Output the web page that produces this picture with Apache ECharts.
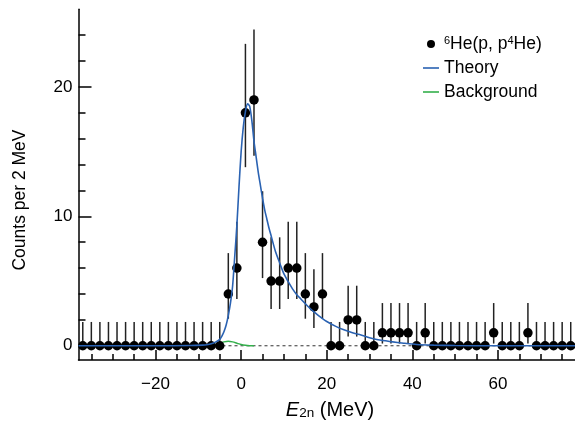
<!DOCTYPE html>
<html>
<head>
<meta charset="utf-8">
<script src="https://cdn.jsdelivr.net/npm/echarts@6/dist/echarts.min.js"></script>
<style>
html,body{margin:0;padding:0;background:#fff;}
#c{width:575px;height:423px;}
</style>
</head>
<body>
<div id="c"></div>
<script>
// Measured data: bin centres (MeV), counts per 2 MeV, and the error-bar limits
const energy = [-37,-35,-33,-31,-29,-27,-25,-23,-21,-19,-17,-15,-13,-11,-9,-7,-5,-3,-1,1,3,5,7,9,11,13,15,17,19,21,23,25,27,29,31,33,35,37,39,41,43,45,47,49,51,53,55,57,59,61,63,65,67,69,71,73,75,77];
const counts = [0,0,0,0,0,0,0,0,0,0,0,0,0,0,0,0,0, 4,6,18,19,8,5,5,6,6,4,3,4, 0,0,2,2,0,0, 1,1,1,1,0,1, 0,0,0,0,0,0,0, 1, 0,0,0, 1, 0,0,0,0,0];
const errLow = [0,0,0,0,0,0,0,0,0,0,0,0,0,0,0,0,0, 2.09,3.62,13.80,14.68,5.23,2.84,2.84,3.62,3.62,2.09,1.37,2.09, 0,0,0.71,0.71,0,0, 0.17,0.17,0.17,0.17,0,0.17, 0,0,0,0,0,0,0, 0.17, 0,0,0, 0.17, 0,0,0,0,0];
const errHigh = [1.84,1.84,1.84,1.84,1.84,1.84,1.84,1.84,1.84,1.84,1.84,1.84,1.84,1.84,1.84,1.84,1.84, 7.16,9.58,23.33,24.44,11.94,8.38,8.38,9.58,9.58,7.16,5.92,7.16, 1.84,1.84,4.64,4.64,1.84,1.84, 3.30,3.30,3.30,3.30,1.84,3.30, 1.84,1.84,1.84,1.84,1.84,1.84,1.84, 3.30, 1.84,1.84,1.84, 3.30, 1.84,1.84,1.84,1.84,1.84];

// Theory curve
const theoryE = [-38,-20,-12,-9,-8,-7,-6,-5,-4.5,-4,-3.5,-3,-2.5,-2,-1.5,-1,-0.5,0,0.5,1,1.5,2,2.5,3,3.5,4,4.5,5,5.5,6,6.5,7,8,9,10,11,12,13,14,15,16,17,18,19,20,22,24,26,28,30,32,35,38,41,45,50,60,78];
const theoryY = [0,0,0.02,0.05,0.08,0.15,0.28,0.5,0.75,1.1,1.6,2.35,3.3,4.6,6.9,9.3,12.3,15.0,16.9,18.1,18.7,18.5,17.4,15.8,14.6,13.4,12.4,11.4,10.5,9.8,9.1,8.5,7.3,6.4,5.55,4.95,4.4,3.95,3.6,3.25,2.92,2.62,2.35,2.1,1.88,1.52,1.23,1.0,0.83,0.62,0.46,0.32,0.2,0.1,0.05,0.02,0,0];

// Background curve
const bgE = [-38,-8,-7,-6,-5,-4,-3,-2,-1,0,1,2,3];
const bgY = [0,0,0.03,0.1,0.2,0.3,0.35,0.3,0.2,0.1,0.04,0.01,0];

// Axis ticks
const xMajor = [-20,0,20,40,60];
const xMinor = [-35,-30,-25,-15,-10,-5,5,10,15,25,30,35,45,50,55,65,70,75];
const yMajor = [0,10,20];
const yMinor = [2,4,6,8,12,14,16,18,22,24];

const dataName = '⁶He(p, p⁴He)';
const FONT = '"Liberation Sans", Arial, Helvetica, sans-serif';
const X_MIN = -38, X_MAX = 78, Y_MIN = -1.1, Y_MAX = 26;
const BLUE = '#2a62b2', GREEN = '#34b04c';
const LINE_ICON = 'path://M0,0 L20,0 L20,2 L0,2 Z';

const chart = echarts.init(document.getElementById('c'), null, {renderer: 'canvas'});

const option = {
  animation: false,
  backgroundColor: '#fff',
  grid: {left: 78.5, right: 0, top: 9.3, bottom: 63},
  xAxis: [
    {type: 'value', min: X_MIN, max: X_MAX, position: 'bottom',
     splitLine: {show: false},
     axisLine: {show: true, onZero: false, lineStyle: {color: '#000', width: 1.5}},
     axisTick: {show: true, inside: true, length: 10, customValues: xMajor, lineStyle: {color: '#000', width: 1.5}},
     axisLabel: {show: true, customValues: xMajor, margin: 16, color: '#000', fontSize: 17, fontFamily: FONT,
       formatter: v => String(v).replace('-', '\u2212')}},
    {type: 'value', min: X_MIN, max: X_MAX, position: 'bottom',
     splitLine: {show: false},
     axisLine: {show: false, onZero: false},
     axisTick: {show: true, inside: true, length: 6, customValues: xMinor, lineStyle: {color: '#000', width: 1.5}},
     axisLabel: {show: false}}
  ],
  yAxis: [
    {type: 'value', min: Y_MIN, max: Y_MAX, position: 'left',
     splitLine: {show: false},
     axisLine: {show: true, onZero: false, lineStyle: {color: '#000', width: 1.5}},
     axisTick: {show: true, inside: true, length: 13, customValues: yMajor, lineStyle: {color: '#000', width: 1.5}},
     axisLabel: {show: true, customValues: yMajor, margin: 6, color: '#000', fontSize: 17, fontFamily: FONT}},
    {type: 'value', min: Y_MIN, max: Y_MAX, position: 'left',
     splitLine: {show: false},
     axisLine: {show: false, onZero: false},
     axisTick: {show: true, inside: true, length: 7, customValues: yMinor, lineStyle: {color: '#000', width: 1.5}},
     axisLabel: {show: false}}
  ],
  legend: {
    orient: 'vertical', left: 418, top: 30, padding: 5,
    itemWidth: 16, itemHeight: 8, itemGap: 6,
    data: [
      {name: dataName, icon: 'circle', itemStyle: {color: '#000', opacity: 1}},
      {name: 'Theory', icon: LINE_ICON, itemStyle: {color: BLUE}},
      {name: 'Background', icon: LINE_ICON, itemStyle: {color: GREEN}}
    ],
    formatter: function (name) {
      if (name === dataName) return '{sup|6}{n|He(p, p}{sup|4}{n|He)}';
      return name;
    },
    textStyle: {
      color: '#000', fontSize: 17.5, fontFamily: FONT, lineHeight: 18,
      rich: {
        n: {fontSize: 17.5, fontFamily: FONT, color: '#000', lineHeight: 18},
        sup: {fontSize: 11, fontFamily: FONT, color: '#000', lineHeight: 11, verticalAlign: 'top'}
      }
    }
  },
  graphic: [
    {type: 'text', x: 20, y: 200, rotation: Math.PI / 2,
     style: {text: 'Counts per 2 MeV', font: '17.5px ' + FONT, fill: '#000', align: 'center', verticalAlign: 'middle'}},
    {type: 'text', x: 330, y: 409,
     style: {text: '{e|E}{s|2n}{n| (MeV)}', fill: '#000', align: 'center', verticalAlign: 'middle',
       rich: {
         e: {fontSize: 20, fontFamily: FONT, fontStyle: 'italic', fill: '#000', lineHeight: 22, verticalAlign: 'bottom'},
         s: {fontSize: 13.5, fontFamily: FONT, fill: '#000', lineHeight: 13, verticalAlign: 'bottom'},
         n: {fontSize: 20, fontFamily: FONT, fill: '#000', lineHeight: 22, verticalAlign: 'bottom'}
       }}}
  ],
  series: [
    {name: 'zero', type: 'line', xAxisIndex: 0, yAxisIndex: 0, symbol: 'none', silent: true, z: 1,
     data: [[X_MIN, 0], [X_MAX, 0]],
     lineStyle: {color: '#333', width: 1, type: [3, 3]}},
    {name: 'Background', type: 'line', xAxisIndex: 0, yAxisIndex: 0, symbol: 'none', z: 2, smooth: 0.3,
     data: bgE.map((e, i) => [e, bgY[i]]),
     color: GREEN, lineStyle: {color: GREEN, width: 1.5}},
    {name: 'errors', type: 'custom', xAxisIndex: 0, yAxisIndex: 0, z: 3, silent: true,
     data: energy.map((e, i) => [e, errLow[i], errHigh[i]]),
     renderItem: function (params, api) {
       const p1 = api.coord([api.value(0), api.value(1)]);
       const p2 = api.coord([api.value(0), api.value(2)]);
       return {type: 'line', shape: {x1: p1[0], y1: p1[1], x2: p2[0], y2: p2[1]},
               style: {stroke: '#222', lineWidth: 1.5}};
     }},
    {name: dataName, type: 'scatter', xAxisIndex: 0, yAxisIndex: 0, z: 4,
     data: energy.map((e, i) => [e, counts[i]]),
     symbol: 'circle', symbolSize: 9.5, itemStyle: {color: '#000', opacity: 1}, color: '#000'},
    {name: 'Theory', type: 'line', xAxisIndex: 0, yAxisIndex: 0, symbol: 'none', z: 5, smooth: 0.25,
     data: theoryE.map((e, i) => [e, theoryY[i]]),
     color: BLUE, lineStyle: {color: BLUE, width: 1.6}}
  ]
};
chart.setOption(option);
</script>
</body>
</html>
